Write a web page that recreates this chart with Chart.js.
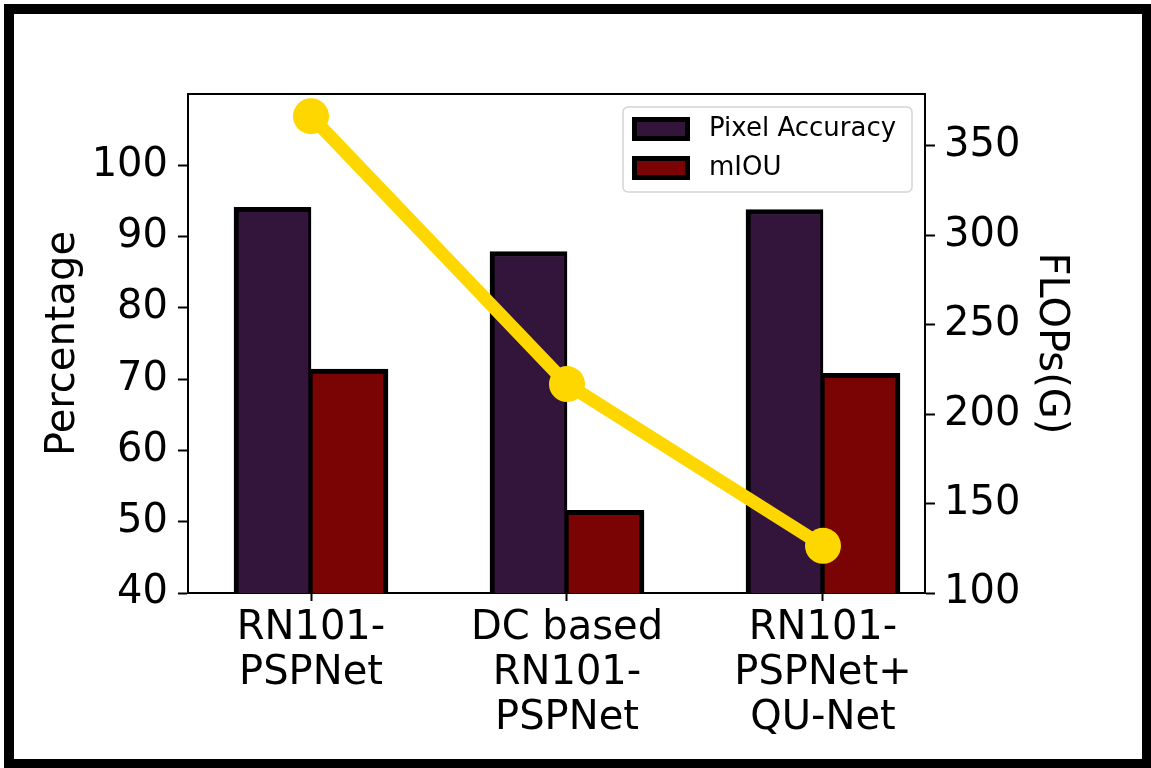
<!DOCTYPE html>
<html>
<head>
<meta charset="utf-8">
<script src="https://cdn.jsdelivr.net/npm/chart.js@4.4.1/dist/chart.umd.min.js"></script>
<style>
  body { margin: 0; background: #fff; }
  #wrap { position: relative; width: 1151px; height: 768px; overflow: hidden; }
  canvas { position: absolute; left: 0; top: 0; }
  #frame { position: absolute; left: 4px; top: 4px; width: 1148px; height: 765px; box-sizing: border-box; border: 10px solid #000; pointer-events: none; }
</style>
</head>
<body>
<div id="wrap">
  <canvas id="chart" width="1151" height="768"></canvas>
  <div id="frame"></div>
</div>
<script>
const categories = [["RN101-", "PSPNet"], ["DC based", "RN101-", "PSPNet"], ["RN101-", "PSPNet+", "QU-Net"]];
const pixelAccuracy = [94.1, 87.9, 93.8];
const miou = [71.4, 51.6, 70.8];
const flops = [366.6, 216.8, 126.4];
const percentTicks = [40, 50, 60, 70, 80, 90, 100];
const flopsTicks = [100, 150, 200, 250, 300, 350];

Chart.defaults.font.family = "'DejaVu Sans'";
Chart.defaults.color = "#000";

// top spine + legend inside the plot
const frameAndLegend = {
  id: "frameAndLegend",
  afterDraw(chart) {
    const { ctx, chartArea } = chart;
    ctx.save();
    ctx.strokeStyle = "#000";
    ctx.lineWidth = 2;
    ctx.beginPath();
    ctx.moveTo(chartArea.left, chartArea.top);
    ctx.lineTo(chartArea.right, chartArea.top);
    ctx.stroke();

    const bars = chart.data.datasets.filter((d) => d.type === "bar");
    const w = 289, h = 85;
    const x = chartArea.right - 13 - w;
    const y = chartArea.top + 13;
    ctx.beginPath();
    ctx.roundRect(x, y, w, h, 5);
    ctx.fillStyle = "rgba(255,255,255,0.8)";
    ctx.fill();
    ctx.strokeStyle = "#d4d4d4";
    ctx.lineWidth = 1.5;
    ctx.stroke();
    ctx.font = "26px 'DejaVu Sans'";
    ctx.textBaseline = "middle";
    bars.forEach((d, i) => {
      const cy = y + 22 + i * 39;
      ctx.fillStyle = d.backgroundColor;
      ctx.fillRect(x + 11.5, cy - 9.5, 53, 19);
      ctx.lineWidth = 5;
      ctx.strokeStyle = "#000";
      ctx.strokeRect(x + 11.5, cy - 9.5, 53, 19);
      ctx.fillStyle = "#000";
      ctx.fillText(d.label, x + 86, cy);
    });
    ctx.restore();
  },
};

const toPoints = (arr) => arr.map((v, i) => ({ x: i, y: v }));

new Chart(document.getElementById("chart"), {
  data: {
    datasets: [
      {
        type: "line",
        label: "FLOPs",
        data: toPoints(flops),
        yAxisID: "y2",
        order: 0,
        borderColor: "#FFD700",
        borderWidth: 13,
        backgroundColor: "#FFD700",
        pointRadius: 18,
        pointBorderWidth: 0,
        pointBackgroundColor: "#FFD700",
        tension: 0,
      },
      {
        type: "bar",
        label: "Pixel Accuracy",
        data: toPoints(pixelAccuracy),
        yAxisID: "y",
        order: 1,
        backgroundColor: "#33143b",
        borderColor: "#000",
        borderWidth: { top: 5, left: 5, right: 3, bottom: 0 },
        barThickness: 77,
      },
      {
        type: "bar",
        label: "mIOU",
        data: toPoints(miou),
        yAxisID: "y",
        order: 1,
        backgroundColor: "#7a0403",
        borderColor: "#000",
        borderWidth: { top: 5, left: 2, right: 5, bottom: 0 },
        barThickness: 77,
      },
    ],
  },
  options: {
    responsive: false,
    animation: false,
    events: [],
    layout: { padding: { top: 94, left: 0, right: 0, bottom: 0 } },
    plugins: { legend: { display: false }, tooltip: { enabled: false } },
    scales: {
      x: {
        type: "linear",
        min: -0.48047,
        max: 2.39844,
        offset: false,
        afterBuildTicks: (s) => { s.ticks = categories.map((c, i) => ({ value: i })); },
        afterFit: (s) => { s.height = 175; },
        ticks: {
          autoSkip: false,
          maxRotation: 0,
          padding: 5,
          color: "#000",
          font: { size: 40, lineHeight: "45px" },
          callback: (v) => categories[v],
        },
        grid: { offset: false, drawOnChartArea: false, drawTicks: true, tickLength: 8, tickWidth: 2, tickColor: "#000" },
        border: { color: "#000", width: 2 },
      },
      y: {
        position: "left",
        min: 40,
        max: 110,
        afterBuildTicks: (s) => { s.ticks = percentTicks.map((v) => ({ value: v })); },
        afterFit: (s) => { s.width = 188; },
        ticks: { padding: 10, color: "#000", font: { size: 40 } },
        grid: { drawOnChartArea: false, drawTicks: true, tickLength: 10, tickWidth: 2, tickColor: "#000" },
        border: { color: "#000", width: 2 },
        title: { display: true, text: "Percentage", color: "#000", font: { size: 40 }, padding: { top: 40, bottom: 0 } },
      },
      y2: {
        position: "right",
        min: 100,
        max: 379,
        afterBuildTicks: (s) => { s.ticks = flopsTicks.map((v) => ({ value: v })); },
        afterFit: (s) => { s.width = 226; },
        ticks: { padding: 9, color: "#000", font: { size: 40 } },
        grid: { drawOnChartArea: false, drawTicks: true, tickLength: 10, tickWidth: 2, tickColor: "#000" },
        border: { color: "#000", width: 2 },
        title: { display: true, text: "FLOPs(G)", color: "#000", font: { size: 40 }, padding: { top: 77, bottom: 0 } },
      },
    },
  },
  plugins: [frameAndLegend],
});
</script>
</body>
</html>
